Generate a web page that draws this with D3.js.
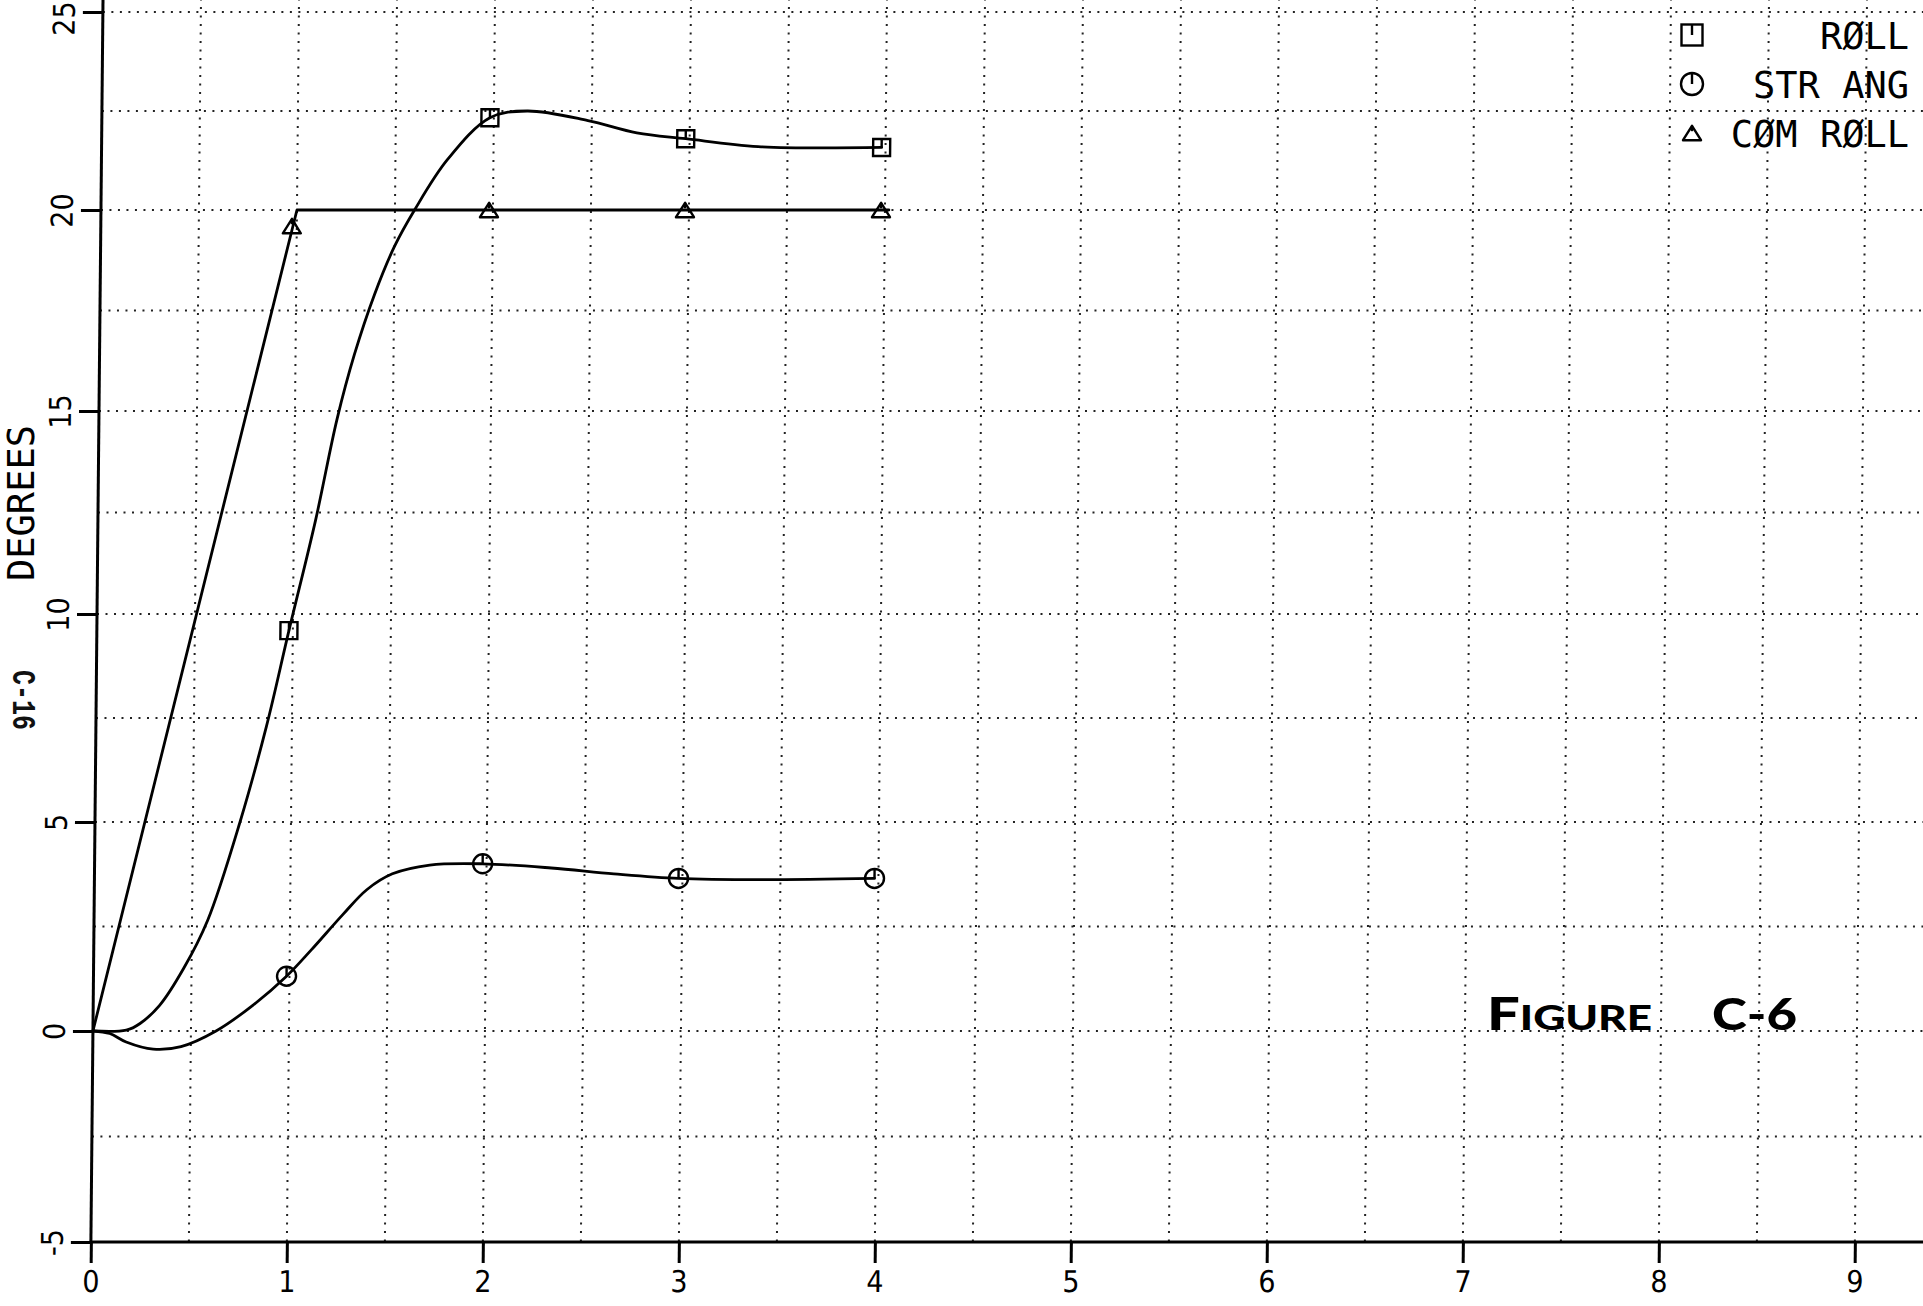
<!DOCTYPE html>
<html><head><meta charset="utf-8">
<script src="https://cdn.jsdelivr.net/npm/d3@7"></script>
<style>
html,body{margin:0;padding:0;background:#fff;}
svg{display:block;}
</style></head><body>
<svg id="chart" width="1923" height="1306"></svg>
<script>
// ---------------- data ----------------
const xTicks = [0,1,2,3,4,5,6,7,8,9];
const yTicks = [-5,0,5,10,15,20,25];
const xGrid = [0.5,1,1.5,2,2.5,3,3.5,4,4.5,5,5.5,6,6.5,7,7.5,8,8.5,9,9.5];
const yGrid = [-2.5,0,2.5,5,7.5,10,12.5,15,17.5,20,22.5,25];

// ROLL (curve samples, seconds / degrees)
const rollT = [0,0.17,0.24,0.34,0.46,0.58,0.74,0.87,0.98,1.11,1.215,1.3,1.4,1.5,1.6,1.765,1.98,2.17,2.48,2.73,2.98,3.35,3.98];
const rollV = [0,0.02,0.18,0.62,1.5,2.65,5.0,7.3,9.6,12.3,14.8,16.4,17.9,19.1,20.0,21.27,22.33,22.5,22.26,21.95,21.8,21.6,21.58];
// STR ANG
const strT = [0,0.086,0.17,0.308,0.45,0.628,0.816,0.985,1.11,1.27,1.39,1.52,1.71,1.98,2.33,2.65,2.98,3.4,3.98];
const strV = [0,-0.06,-0.26,-0.43,-0.37,0,0.62,1.31,1.94,2.79,3.38,3.76,3.97,4.0,3.9,3.76,3.65,3.62,3.65];
// COM ROLL
const comT = [0,1.0,4.02];
const comV = [0,20,20];

// plotted symbols
const rollMarkT = [0.98,1.98,2.98,3.98];
const rollMarkV = [9.6,22.33,21.8,21.58];
const strMarkT = [0.985,1.98,2.98,3.98];
const strMarkV = [1.31,4.0,3.65,3.65];
const comMarkT = [0.975,1.98,2.98,3.98];
const comMarkV = [19.6,20,20,20];

const legendLabels = ["RØLL","STR ANG","CØM RØLL"];
const legendShapes = ["square","circle","triangle"];
const yTitle = "DEGREES";
const pageLabel = "C-16";
const figLabelA = "F", figLabelB = "IGURE", figLabelC = "C-6";

// ---------------- drawing ----------------
const W = 1923, H = 1306;
const svg = d3.select("#chart");
svg.append("rect").attr("width",W).attr("height",H).attr("fill","#fff");

const skewDeg = Math.atan(-12/1230)*180/Math.PI;
const x = d3.scaleLinear().domain([0,10]).range([103,103+1960]);
const y = d3.scaleLinear().domain([-5,0,5,10,15,20,25]).range([1242,1031,822,614,411,210,12]);

const g = svg.append("g").attr("transform",`skewX(${skewDeg})`);

// grid
const dot = {stroke:"#222", w:2, dash:"2 6.5"};
g.append("g").selectAll("line").data(xGrid).join("line")
  .attr("x1",d=>x(d)).attr("x2",d=>x(d)).attr("y1",-10).attr("y2",y(-5))
  .attr("stroke",dot.stroke).attr("stroke-width",dot.w).attr("stroke-dasharray",dot.dash);
g.append("g").selectAll("line").data(yGrid).join("line")
  .attr("x1",x(0)).attr("x2",2100).attr("y1",d=>y(d)).attr("y2",d=>y(d))
  .attr("stroke",dot.stroke).attr("stroke-width",dot.w).attr("stroke-dasharray",dot.dash);

// axes
const tickFont = "'Liberation Sans Narrow','DejaVu Sans Condensed','Liberation Sans',sans-serif";
const yAxis = d3.axisLeft(y).tickValues(yTicks).tickSize(20).tickFormat(d=>String(d));
const ya = g.append("g").attr("transform",`translate(${x(0)},0)`).call(yAxis);
ya.select(".domain").remove();
ya.selectAll(".tick line").attr("stroke","#000").attr("stroke-width",3);
ya.selectAll(".tick text")
  .attr("x",null).attr("dy","0.36em")
  .attr("transform",d=>`translate(-39,${d===25?6:0}) rotate(-90)`)
  .attr("text-anchor","middle")
  .attr("fill","#000")
  .style("font-family",tickFont)
  .style("font-stretch","condensed")
  .style("font-size","30px");

const xAxis = d3.axisBottom(x).tickValues(xTicks).tickSize(21).tickPadding(8).tickFormat(d=>String(d));
const xa = g.append("g").attr("transform",`translate(0,${y(-5)})`).call(xAxis);
xa.select(".domain").remove();
xa.selectAll(".tick line").attr("stroke","#000").attr("stroke-width",3);
xa.selectAll(".tick text").attr("fill","#000")
  .style("font-family",tickFont)
  .style("font-stretch","condensed")
  .style("font-size","30px");

g.append("line").attr("x1",x(0)).attr("x2",2100).attr("y1",y(-5)).attr("y2",y(-5))
  .attr("stroke","#000").attr("stroke-width",3);
g.append("line").attr("x1",x(0)).attr("x2",x(0)).attr("y1",-10).attr("y2",y(-5))
  .attr("stroke","#000").attr("stroke-width",3);

// curves
const smooth = d3.line().x(d=>x(d[0])).y(d=>y(d[1])).curve(d3.curveCatmullRom.alpha(0.5));
const straight = d3.line().x(d=>x(d[0])).y(d=>y(d[1])).curve(d3.curveLinear);
const curveStyle = s => s.attr("fill","none").attr("stroke","#000").attr("stroke-width",2.8)
  .attr("stroke-linejoin","round").attr("stroke-linecap","round");
g.append("path").datum(d3.zip(rollT,rollV)).attr("d",smooth).call(curveStyle);
g.append("path").datum(d3.zip(strT,strV)).attr("d",smooth).call(curveStyle);
g.append("path").datum(d3.zip(comT,comV)).attr("d",straight).call(curveStyle);

// markers
function marker(sel, type, cx, cy, s){
  const m = sel.append("g").attr("transform",`translate(${cx},${cy})`)
    .attr("fill","none").attr("stroke","#000").attr("stroke-width",2.4);
  if(type==="square"){
    m.append("rect").attr("x",-s/2).attr("y",-s/2).attr("width",s).attr("height",s);
    m.append("line").attr("x1",0).attr("x2",0).attr("y1",-s/2).attr("y2",0);
  } else if(type==="circle"){
    m.append("circle").attr("r",s/2);
    m.append("line").attr("x1",0).attr("x2",0).attr("y1",-s/2).attr("y2",0);
  } else {
    const h = s*0.8;
    m.append("path").attr("d",`M${-s/2},${h/2}L0,${-h/2}L${s/2},${h/2}Z`).attr("stroke-linejoin","round");
    m.append("line").attr("x1",0).attr("x2",0).attr("y1",-h/2).attr("y2",-h/8);
  }
}
const mk = g.append("g");
d3.zip(rollMarkT,rollMarkV).forEach(d=>marker(mk,"square",x(d[0]),y(d[1]),17));
d3.zip(strMarkT,strMarkV).forEach(d=>marker(mk,"circle",x(d[0]),y(d[1]),19));
d3.zip(comMarkT,comMarkV).forEach(d=>marker(mk,"triangle",x(d[0]),y(d[1]),18));

// legend
const leg = svg.append("g");
const legY = [35,84,133];
const legSizes = {square:21, circle:22, triangle:18};
legendLabels.forEach((lab,i)=>{
  marker(leg, legendShapes[i], 1692, legY[i], legSizes[legendShapes[i]]);
  leg.append("text").attr("x",1909).attr("y",legY[i]+13.5)
    .attr("text-anchor","end").attr("fill","#000")
    .style("font-family","'DejaVu Sans Mono',monospace").style("font-size","37px")
    .text(lab);
});

// titles
svg.append("text").attr("transform","translate(34,503) rotate(-90)")
  .attr("text-anchor","middle").attr("fill","#000")
  .style("font-family","'DejaVu Sans Mono',monospace").style("font-size","37px")
  .text(yTitle);

svg.append("text").attr("transform","translate(25,700) rotate(90)")
  .attr("text-anchor","middle").attr("dy","0.36em").attr("fill","#111")
  .attr("textLength",60).attr("lengthAdjust","spacingAndGlyphs")
  .style("font-family","'Liberation Mono',monospace").style("font-weight","bold").style("font-size","33px")
  .text(pageLabel);

const fig = svg.append("text").attr("x",1487).attr("y",1030).attr("fill","#000")
  .style("font-family","Lato,'Open Sans',sans-serif").style("font-weight","900")
  .attr("textLength",165).attr("lengthAdjust","spacingAndGlyphs");
fig.append("tspan").style("font-size","46px").text(figLabelA);
fig.append("tspan").style("font-size","35px").text(figLabelB);
svg.append("text").attr("x",1712).attr("y",1030).attr("fill","#000")
  .style("font-family","Lato,'Open Sans',sans-serif").style("font-weight","900").style("font-size","44px")
  .attr("textLength",85).attr("lengthAdjust","spacingAndGlyphs")
  .text(figLabelC);
</script>
</body></html>
